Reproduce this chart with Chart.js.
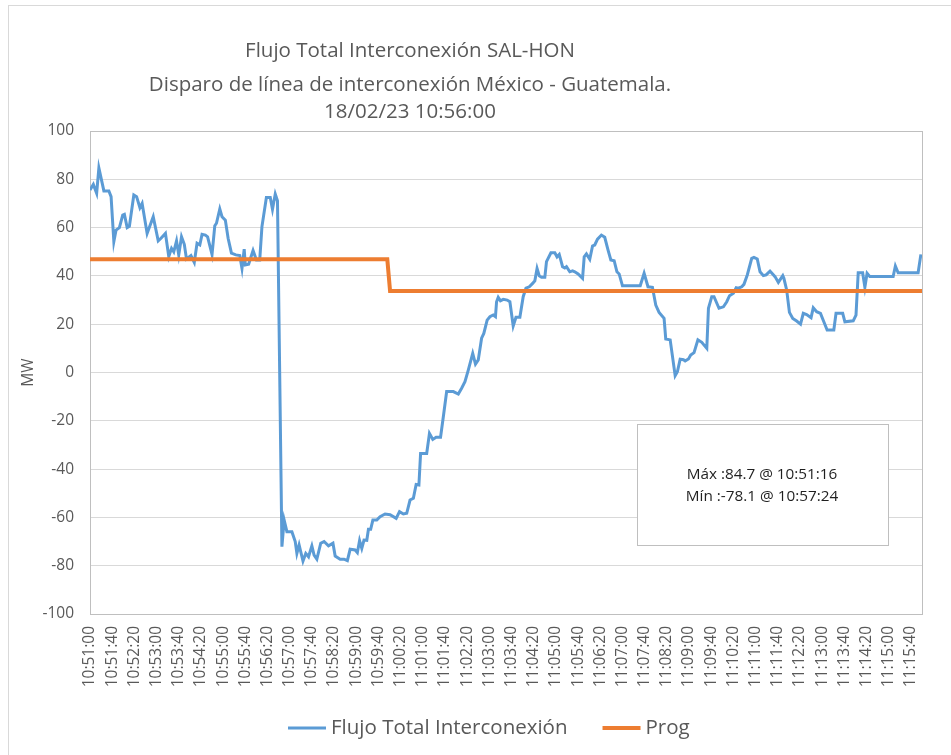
<!DOCTYPE html>
<html>
<head>
<meta charset="utf-8">
<script src="https://cdn.jsdelivr.net/npm/chart.js@4.4.0/dist/chart.umd.min.js"></script>
<style>
  body { margin: 0; background: #fff; }
  #marco { position: absolute; left: 8px; top: 5px; width: 960px; height: 760px; border: 1px solid #d9d9d9; }
  #myChart { position: absolute; left: 0; top: 0; }
</style>
</head>
<body>
<div id="marco"></div>
<canvas id="myChart" width="951" height="755"></canvas>
<script>
// segundos desde las 10:51:00
const inicio = 10 * 3600 + 51 * 60;

const flujoT = [0, 6, 12, 16, 25, 34, 38, 43, 47, 53, 59, 62, 67, 71, 79, 84, 90, 94, 103, 114,
  123, 128, 136, 142, 147, 151, 156, 160, 165, 170, 174, 182, 188, 193, 198, 202, 208, 212, 220, 225,
  228, 234, 238, 244, 249, 255, 263, 270, 274, 278, 280, 286, 294, 300, 306, 310, 318, 325, 329, 334,
  338, 346, 350, 355, 364, 370, 373, 377, 384, 389, 394, 400, 404, 409, 416, 422, 430, 438, 442, 451,
  458, 464, 469, 478, 482, 486, 490, 494, 499, 502, 506, 510, 517, 523, 532, 541, 552, 558, 565, 571,
  577, 583, 588, 593, 596, 607, 612, 618, 624, 632, 637, 643, 655, 664, 670, 676, 682, 690, 695, 700,
  706, 710, 716, 721, 727, 731, 733, 736, 740, 745, 752, 757, 763, 768, 775, 781, 786, 792, 798, 802,
  806, 810, 814, 820, 823, 831, 838, 842, 846, 852, 856, 859, 865, 870, 874, 880, 888, 891, 895, 901,
  906, 910, 915, 922, 928, 934, 939, 945, 950, 954, 960, 992, 999, 1006, 1014, 1020, 1026, 1035, 1038, 1046,
  1055, 1059, 1064, 1070, 1073, 1079, 1083, 1089, 1096, 1103, 1112, 1115, 1121, 1125, 1134, 1142, 1148, 1153, 1160, 1165,
  1169, 1175, 1179, 1185, 1193, 1197, 1203, 1208, 1214, 1219, 1226, 1235, 1241, 1249, 1251, 1256, 1261, 1267, 1274, 1281,
  1286, 1292, 1300, 1304, 1310, 1317, 1323, 1329, 1341, 1345, 1357, 1361, 1376, 1381, 1385, 1393, 1397, 1401, 1406, 1448,
  1452, 1457, 1493, 1498];

const flujoV = [75.6, 77.9, 74.2, 84.7, 75.2, 75.2, 72.8, 54.2, 59, 60, 65.2, 65.5, 60, 60.5, 73.5, 72.8, 68.2, 70, 57.6, 64.5,
  54.5, 55.6, 57.6, 48, 51.4, 50, 54.5, 48.7, 56.2, 53.1, 47, 48.4, 45.6, 53.5, 52.8, 57.2, 56.9, 56.2, 48.9, 60.8,
  61.8, 67.7, 64.5, 63.1, 55.6, 49.4, 48.7, 48.4, 43.1, 51.1, 44.5, 44.8, 50.5, 46.6, 46.6, 60.4, 72.5, 72.5, 67.6, 73.9,
  71.1, -72.1, -61.1, -65.9, -65.9, -70, -74.9, -71.4, -78.1, -74.9, -76.3, -71.8, -75.6, -77.3, -70.7, -70, -71.8, -70.7, -76, -77.3,
  -77.3, -77.9, -73.2, -73.5, -74.6, -69.6, -72.8, -69.4, -69.5, -64.9, -64.9, -61.1, -61.1, -59.7, -58.6, -58.9, -60.4, -57.6, -58.6, -58.3,
  -52.8, -52.1, -46.4, -46.6, -33.5, -33.5, -25.2, -27.7, -26.8, -26.8, -18.3, -7.9, -7.9, -8.9, -6.5, -3.8, 1, 7.9, 3.5, 5.2,
  14.2, 16.2, 21.7, 23.1, 23.8, 23.1, 29.3, 31.1, 29.7, 30.3, 30, 29.3, 19.3, 22.9, 22.9, 31.4, 34.9, 35.5, 36.9, 38,
  43.1, 40, 39.4, 39.4, 45.9, 49.6, 49.6, 47.9, 48.9, 43.8, 43.3, 43.8, 41.7, 42.1, 41.7, 40.8, 39, 47.9, 49.1, 46.9,
  52.4, 52.8, 55.2, 56.9, 56, 50.7, 46.6, 46.3, 41.7, 40.8, 35.9, 35.9, 41.1, 35.5, 35.3, 27.9, 24.9, 22.4, 13.9, 13.5,
  -1.3, 0.3, 5.5, 5.3, 4.8, 5.6, 7.2, 8.2, 13.5, 12.5, 10, 26.6, 31.4, 31.4, 26.6, 27.2, 29.3, 31.8, 32.8, 35.1,
  34.9, 35.5, 36.5, 40.4, 47.3, 47.7, 47, 41.7, 40.1, 40.4, 42, 39.7, 37.3, 40.1, 39, 34.2, 24.9, 22.4, 21.3, 20,
  24.5, 24, 22.7, 26.8, 25.2, 24.5, 21, 17.6, 17.6, 24.5, 24.5, 21, 21.4, 23.8, 41.3, 41.3, 35.3, 41.1, 39.7, 39.7,
  44.1, 41.3, 41.3, 48.9];

const progT = [0, 536, 541, 1500];
const progV = [46.9, 46.9, 33.7, 33.7];

const titulo = ['Flujo Total Interconexión SAL-HON',
  'Disparo de línea de interconexión México - Guatemala.',
  '18/02/23 10:56:00'];
const nota = ['Máx :84.7 @ 10:51:16', 'Mín :-78.1 @ 10:57:24'];
const series = ['Flujo Total Interconexión', 'Prog'];
const colores = ['#5b9bd5', '#ed7d31'];

const fuente = '"Open Sans", sans-serif';
const gris = '#595959';

function hora(s) {
    s = inicio + s;
    const h = Math.floor(s / 3600);
    const m = Math.floor((s % 3600) / 60);
    const sec = s % 60;
    return h + ':' + String(m).padStart(2, '0') + ':' + String(sec).padStart(2, '0');
}

const decorado = {
    id: 'decorado',
    beforeDatasetsDraw(chart) {
        const ctx = chart.ctx, a = chart.chartArea;
        ctx.save();
        ctx.strokeStyle = '#bfbfbf';
        ctx.lineWidth = 1;
        ctx.strokeRect(a.left + 0.5, a.top + 0.5, a.right - a.left, a.bottom - a.top);
        ctx.restore();
    },
    afterDraw(chart) {
        const ctx = chart.ctx;
        ctx.save();
        // titulo
        ctx.fillStyle = gris;
        ctx.font = '20.5px ' + fuente;
        ctx.textAlign = 'center';
        ctx.textBaseline = 'middle';
        const ty = [51, 85, 112];
        titulo.forEach((t, i) => ctx.fillText(t, 410, ty[i]));

        // cuadro de máximo / mínimo
        ctx.fillStyle = '#fff';
        ctx.fillRect(637, 424, 251, 121);
        ctx.strokeStyle = '#bfbfbf';
        ctx.lineWidth = 1;
        ctx.strokeRect(637.5, 424.5, 251, 121);
        ctx.fillStyle = '#1f1f1f';
        ctx.font = '15.3px ' + fuente;
        ctx.fillText(nota[0], 762, 475);
        ctx.fillText(nota[1], 762, 497);

        // leyenda
        ctx.font = '20.5px ' + fuente;
        ctx.textAlign = 'left';
        let x = 288;
        const y = 728;
        series.forEach((s, i) => {
            ctx.strokeStyle = colores[i];
            ctx.lineWidth = i == 0 ? 3 : 4;
            ctx.beginPath();
            ctx.moveTo(x, y);
            ctx.lineTo(x + 38, y);
            ctx.stroke();
            ctx.fillStyle = gris;
            ctx.fillText(s, x + 43, y);
            x += 43 + ctx.measureText(s).width + 35;
        });
        ctx.restore();
    }
};

const ctx = document.getElementById('myChart').getContext('2d');
const myChart = new Chart(ctx, {
    type: 'line',
    data: {
        datasets: [
            {
                label: series[0],
                data: flujoT.map((t, i) => ({ x: t, y: flujoV[i] })),
                borderColor: colores[0],
                borderWidth: 3,
                pointRadius: 0,
                tension: 0,
                order: 1
            },
            {
                label: series[1],
                data: progT.map((t, i) => ({ x: t, y: progV[i] })),
                borderColor: colores[1],
                borderWidth: 4,
                pointRadius: 0,
                tension: 0,
                order: 0
            }
        ]
    },
    options: {
        responsive: false,
        animation: false,
        devicePixelRatio: 1,
        layout: { padding: { left: 0, right: 29, top: 131, bottom: 51 } },
        plugins: {
            legend: { display: false },
            title: { display: false },
            tooltip: { enabled: false }
        },
        scales: {
            x: {
                type: 'linear',
                min: 0,
                max: 1500,
                grid: { display: false, drawTicks: false },
                border: { display: false },
                ticks: {
                    stepSize: 40,
                    includeBounds: false,
                    autoSkip: false,
                    minRotation: 90,
                    maxRotation: 90,
                    padding: 12,
                    color: gris,
                    font: { family: fuente, size: 15.5 },
                    callback: v => hora(v)
                },
                afterFit: s => { s.height = 90; }
            },
            y: {
                min: -100,
                max: 100,
                grid: { color: '#d9d9d9', drawTicks: false },
                border: { display: false },
                ticks: {
                    stepSize: 20,
                    padding: 16,
                    color: gris,
                    font: { family: fuente, size: 15.5 }
                },
                title: {
                    display: true,
                    text: 'MW',
                    color: gris,
                    font: { family: fuente, size: 15.5 },
                    padding: { top: 19, bottom: 0 }
                },
                afterFit: s => { s.width = 90; }
            }
        }
    },
    plugins: [decorado]
});
</script>
</body>
</html>
